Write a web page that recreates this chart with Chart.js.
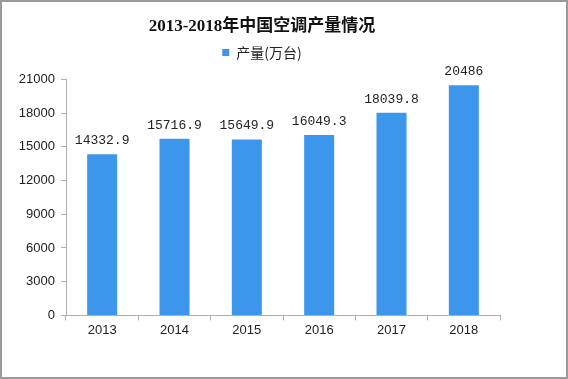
<!DOCTYPE html>
<html><head><meta charset="utf-8">
<script src="https://cdn.jsdelivr.net/npm/chart.js@4/dist/chart.umd.min.js"></script>
<style>html,body{margin:0;padding:0;background:#fff}#wrap{width:568px;height:379px}</style>
</head><body><div id="wrap"><canvas id="c" width="568" height="379"></canvas></div>
<script>
const categories = ['2013','2014','2015','2016','2017','2018'];
const production = [14332.9, 15716.9, 15649.9, 16049.3, 18039.8, 20486];
const dataLabels = ['14332.9','15716.9','15649.9','16049.3','18039.8','20486'];
const yTicks = [0,3000,6000,9000,12000,15000,18000,21000];
const titleText = '2013-2018年中国空调产量情况';
const seriesName = '产量(万台)';

function shiftDraw(box, dx){
  if (!box || box._patched) return;
  const d = box.draw.bind(box);
  box.draw = function(){ const c=this.ctx; c.save(); c.translate(dx,0); d(); c.restore(); };
  box._patched = true;
}
const frame = {
  id:'frame',
  afterInit(chart){
    const lg = chart.legend;
    if (lg && !lg._fitPatched) {
      const f = lg.fit.bind(lg);
      lg.fit = function(){ f(); this.height += 10; };
      lg._fitPatched = true;
    }
    shiftDraw(chart.legend, 12);
    shiftDraw(chart.titleBlock, 12);
  },
  beforeDraw(chart){const c=chart.ctx;c.save();c.fillStyle='#fff';c.fillRect(0,0,chart.width,chart.height);c.restore();},
  afterDraw(chart){const c=chart.ctx;c.save();c.strokeStyle='#9a9a9a';c.lineWidth=2;c.strokeRect(1,1,chart.width-2,chart.height-2);c.restore();}
};
const labelsPlugin = {
  id:'vals',
  afterDatasetsDraw(chart){
    const c=chart.ctx; const meta=chart.getDatasetMeta(0);
    c.save(); c.font='13px "Liberation Mono", monospace'; c.fillStyle='#222';
    c.textAlign='center'; c.textBaseline='bottom';
    meta.data.forEach((b,i)=>{c.fillText(dataLabels[i], b.x, b.y-7);});
    c.restore();
  }
};
new Chart(document.getElementById('c'),{
  type:'bar',
  data:{labels:categories,datasets:[{label:seriesName,data:production,backgroundColor:'#3c97ec',borderWidth:0,categoryPercentage:1,barPercentage:0.415}]},
  options:{
    responsive:false,animation:false,
    layout:{padding:{left:0,right:68,top:0,bottom:39}},
    plugins:{
      title:{display:true,text:titleText,color:'#111',font:{family:'"Liberation Serif","Noto Sans CJK SC",serif',size:17,weight:'bold'},padding:{top:16,bottom:1}},
      legend:{display:true,labels:{boxWidth:7,boxHeight:7,color:'#222',font:{family:'"Noto Sans CJK SC",sans-serif',size:14},padding:8}},
      tooltip:{enabled:false}
    },
    scales:{
      x:{grid:{display:true,drawOnChartArea:false,color:'#b0b0b0',tickLength:5},border:{color:'#b0b0b0'},
         ticks:{color:'#222',font:{family:'"Liberation Sans",sans-serif',size:13},padding:2}},
      y:{min:0,max:21000,afterBuildTicks:s=>{s.ticks=yTicks.map(v=>({value:v}));},
         afterFit:s=>{s.width=66;},
         grid:{display:true,drawOnChartArea:false,color:'#b0b0b0',tickLength:5},border:{color:'#b0b0b0'},
         ticks:{color:'#222',font:{family:'"Liberation Sans",sans-serif',size:13},padding:6,callback:v=>String(v)}}
    }
  },
  plugins:[frame,labelsPlugin]
});
</script></body></html>
